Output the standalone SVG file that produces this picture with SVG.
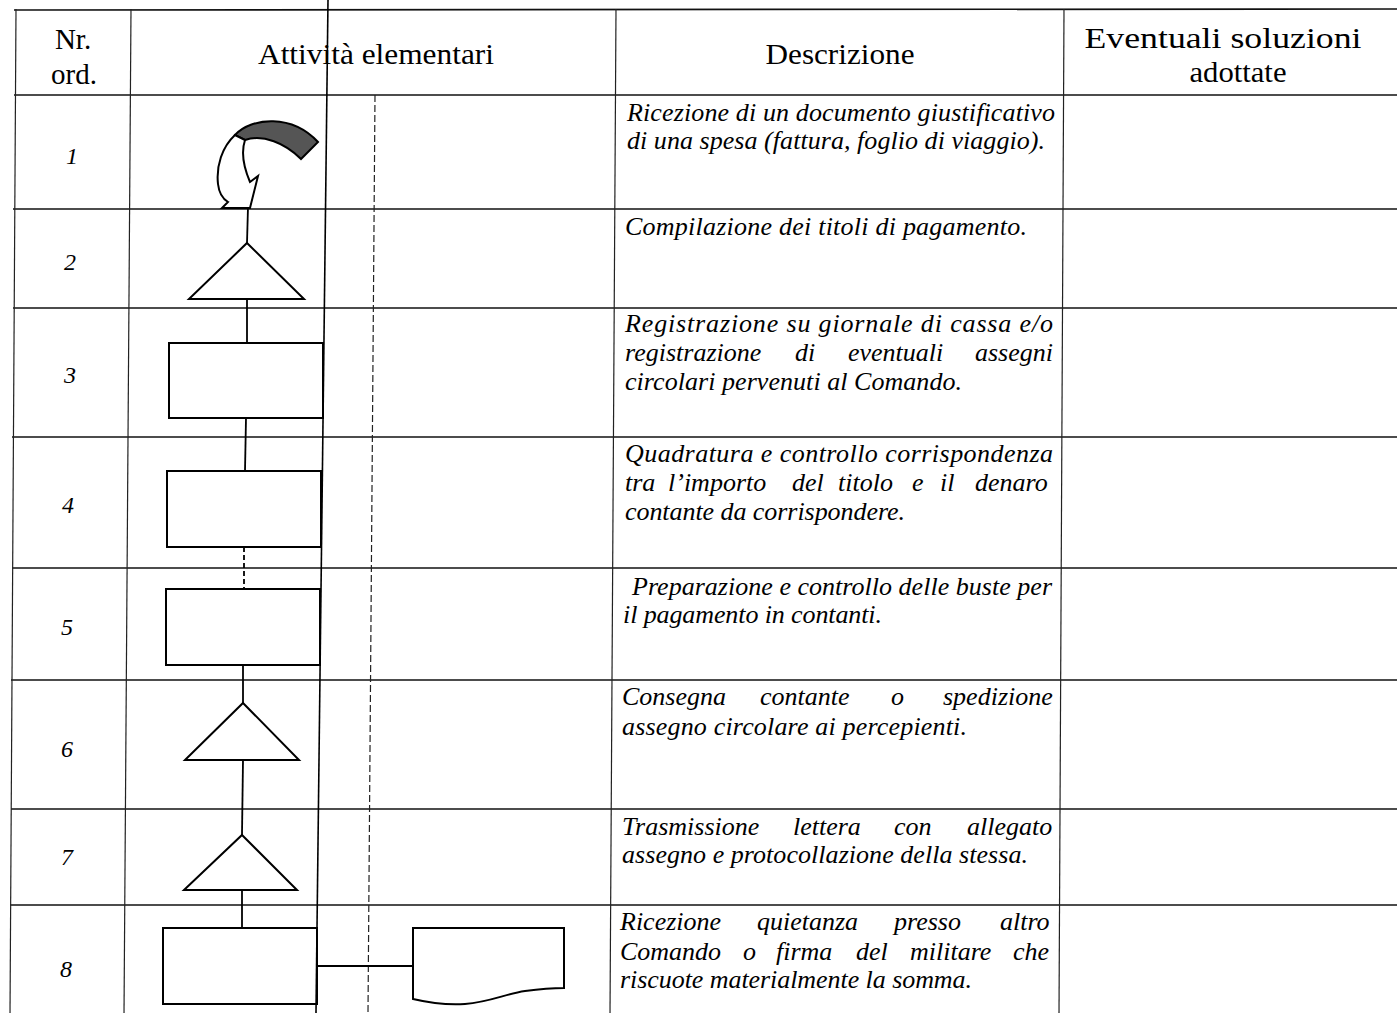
<svg xmlns="http://www.w3.org/2000/svg" width="1397" height="1013" viewBox="0 0 1397 1013">
<style>
.h{stroke:#111;stroke-width:1.7;fill:none}
.v{stroke:#222;stroke-width:1.2;fill:none}
.vd{stroke:#222;stroke-width:1.2;stroke-dasharray:7 3;fill:none}
.long{stroke:#000;stroke-width:1.6;fill:none}
.sh{fill:#fff;stroke:#000;stroke-width:2}
.c{stroke:#000;stroke-width:1.8;fill:none}
.cd{stroke:#000;stroke-width:1.8;stroke-dasharray:5 3;fill:none}
.hdr{font-family:"Liberation Serif","Times New Roman",serif;font-size:29px;fill:#000;text-anchor:middle}
.num{font-family:"Liberation Serif","Times New Roman",serif;font-style:italic;font-size:24px;fill:#000;text-anchor:middle}
.d{font-family:"Liberation Serif","Times New Roman",serif;font-style:italic;font-size:26px;fill:#000}
</style>
<rect x="0" y="0" width="1397" height="1013" fill="#fff"/>
<g id="table">
  <line class="h" x1="14" y1="10" x2="1397" y2="9"/>
  <line class="h" x1="14" y1="95" x2="1397" y2="95"/>
  <line class="h" x1="13" y1="209" x2="1397" y2="209"/>
  <line class="h" x1="13" y1="308" x2="1397" y2="308"/>
  <line class="h" x1="12" y1="437" x2="1397" y2="437"/>
  <line class="h" x1="12" y1="568" x2="1397" y2="568"/>
  <line class="h" x1="11" y1="680" x2="1397" y2="680"/>
  <line class="h" x1="11" y1="809" x2="1397" y2="809"/>
  <line class="h" x1="10" y1="905" x2="1397" y2="905"/>
  <line class="v" x1="16" y1="9" x2="10" y2="1013"/>
  <line class="v" x1="131" y1="9" x2="124" y2="1013"/>
  <line class="v" x1="616" y1="9" x2="610" y2="1013"/>
  <line class="v" x1="1064" y1="9" x2="1059" y2="1013"/>
  <line class="vd" x1="375" y1="95" x2="368" y2="1013"/>
</g>
<g id="header">
  <text class="hdr" x="73" y="49">Nr.</text>
  <text class="hdr" x="74" y="84">ord.</text>
  <text class="hdr" x="376" y="64" textLength="236" lengthAdjust="spacingAndGlyphs">Attività elementari</text>
  <text class="hdr" x="840" y="64" textLength="149" lengthAdjust="spacingAndGlyphs">Descrizione</text>
  <text class="hdr" x="1223" y="48" textLength="277" lengthAdjust="spacingAndGlyphs">Eventuali soluzioni</text>
  <text class="hdr" x="1238" y="82" textLength="97" lengthAdjust="spacingAndGlyphs">adottate</text>
</g>
<g id="numbers">
  <text class="num" x="72" y="164">1</text>
  <text class="num" x="70" y="270">2</text>
  <text class="num" x="70" y="383">3</text>
  <text class="num" x="68" y="513">4</text>
  <text class="num" x="67" y="635">5</text>
  <text class="num" x="67" y="757">6</text>
  <text class="num" x="67" y="865">7</text>
  <text class="num" x="66" y="977">8</text>
</g>
<g id="descriptions">
  <text class="d" x="627" y="121" textLength="428" lengthAdjust="spacing">Ricezione di un documento giustificativo</text>
  <text class="d" x="627" y="149" textLength="418" lengthAdjust="spacing">di una spesa (fattura, foglio di viaggio).</text>
  <text class="d" x="625" y="235" textLength="402" lengthAdjust="spacing">Compilazione  dei titoli di pagamento.</text>
  <text class="d" x="625" y="332" textLength="428" lengthAdjust="spacing">Registrazione su giornale di cassa e/o</text>
  <text class="d" y="361"><tspan x="625">registrazione</tspan><tspan x="795">di</tspan><tspan x="848">eventuali</tspan><tspan x="975">assegni</tspan></text>
  <text class="d" x="625" y="390" textLength="337" lengthAdjust="spacing">circolari pervenuti al Comando.</text>
  <text class="d" x="625" y="462" textLength="428" lengthAdjust="spacing">Quadratura e controllo corrispondenza</text>
  <text class="d" y="491"><tspan x="625">tra</tspan><tspan x="668">l’importo</tspan><tspan x="792">del</tspan><tspan x="838">titolo</tspan><tspan x="912">e</tspan><tspan x="940">il</tspan><tspan x="975">denaro</tspan></text>
  <text class="d" x="625" y="520" textLength="280" lengthAdjust="spacing">contante da corrispondere.</text>
  <text class="d" x="632" y="595" textLength="420" lengthAdjust="spacing">Preparazione e controllo delle buste per</text>
  <text class="d" x="623" y="623" textLength="259" lengthAdjust="spacing">il pagamento in contanti.</text>
  <text class="d" y="705"><tspan x="622">Consegna</tspan><tspan x="760">contante</tspan><tspan x="891">o</tspan><tspan x="943">spedizione</tspan></text>
  <text class="d" x="622" y="735" textLength="345" lengthAdjust="spacing">assegno circolare ai percepienti.</text>
  <text class="d" y="835"><tspan x="622">Trasmissione</tspan><tspan x="793">lettera</tspan><tspan x="894">con</tspan><tspan x="967">allegato</tspan></text>
  <text class="d" x="622" y="863" textLength="406" lengthAdjust="spacing">assegno e protocollazione della stessa.</text>
  <text class="d" y="930"><tspan x="620">Ricezione</tspan><tspan x="757">quietanza</tspan><tspan x="894">presso</tspan><tspan x="1000">altro</tspan></text>
  <text class="d" y="960"><tspan x="620">Comando</tspan><tspan x="743">o</tspan><tspan x="776">firma</tspan><tspan x="856">del</tspan><tspan x="910">militare</tspan><tspan x="1013">che</tspan></text>
  <text class="d" x="620" y="988" textLength="352" lengthAdjust="spacing">riscuote materialmente la somma.</text>
</g>
<g id="connectors">
  <line class="c" x1="248" y1="207" x2="247" y2="243"/>
  <line class="c" x1="247" y1="299" x2="247" y2="343"/>
  <line class="c" x1="246" y1="418" x2="245" y2="471"/>
  <line class="cd" x1="244" y1="547" x2="244" y2="589"/>
  <line class="c" x1="243" y1="665" x2="243" y2="703"/>
  <line class="c" x1="243" y1="760" x2="242" y2="835"/>
  <line class="c" x1="242" y1="890" x2="242" y2="928"/>
  <line class="c" x1="317" y1="966" x2="413" y2="966"/>
</g>
<g id="node1">
  <path d="M235,135 C252,117 292,114 318,142 L301,159 C285,143 263,134 245,140 Z" fill="#555" stroke="#000" stroke-width="2"/>
  <path class="sh" d="M235,135 C222,147 216,166 218,184 C219,193 223,199 228,202 L222,208 L250,208 L258,176 L250,182 C244,168 241,152 245,140 Z"/>
</g>
<g id="node2"><polygon class="sh" points="247,243 304,299 189,299"/></g>
<g id="node3"><rect class="sh" x="169" y="343" width="154" height="75"/></g>
<g id="node4"><rect class="sh" x="167" y="471" width="154" height="76"/></g>
<g id="node5"><rect class="sh" x="166" y="589" width="154" height="76"/></g>
<g id="node6"><polygon class="sh" points="243,703 299,760 185,760"/></g>
<g id="node7"><polygon class="sh" points="242,835 297,890 184,890"/></g>
<g id="node8"><rect class="sh" x="163" y="928" width="154" height="76"/></g>
<g id="node9"><path class="sh" d="M413,928 L564,928 L564,988 C552,988 540,989 525,991 C505,994 490,1002 465,1004 C450,1005 430,1003 413,999 Z"/></g>
<line class="long" x1="328" y1="0" x2="316" y2="1013"/>
</svg>
